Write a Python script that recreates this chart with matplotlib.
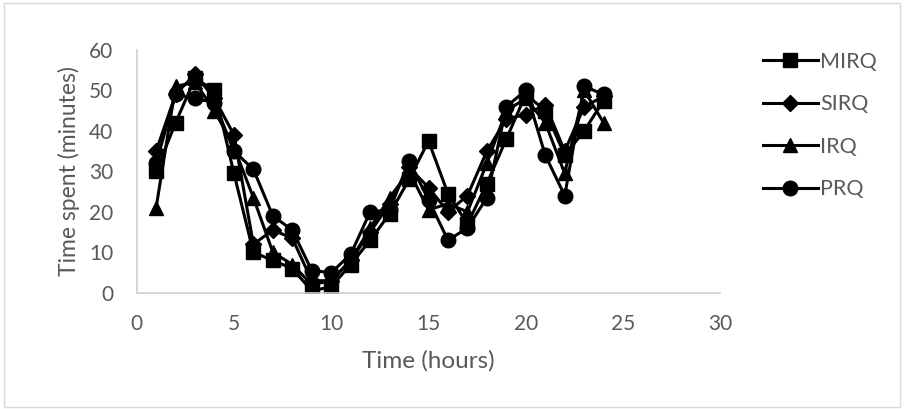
import matplotlib.pyplot as plt
from matplotlib.patches import Rectangle

plt.rcParams['font.family'] = ['Lato', 'DejaVu Sans']

hours = list(range(1, 25))

mirq = [30, 42, 53, 50, 29.5, 10, 8, 6, 0.5, 1.5, 7, 13,
        19.5, 28, 37.5, 24.5, 17, 27, 38, 49, 45, 34, 40, 47.5]
sirq = [35, 49, 54, 48, 39, 12, 15.5, 13.5, 3, 3, 8, 15,
        22, 31, 26, 20, 24, 35, 43, 44, 46.5, 35, 46, 48.5]
irq = [21, 51, 52, 45, 36, 23.5, 10, 7, 2, 3, 8, 16,
       23.5, 30, 20.5, 22, 20, 32, 45, 48, 42, 29.5, 50, 42]
prq = [32, 49, 48, 47, 35, 30.5, 19, 15.5, 5.5, 5, 9.5, 20,
       20.5, 32.5, 23, 13, 16, 23.5, 46, 50, 34, 24, 51, 49]

series = [('MIRQ', mirq, 's'), ('SIRQ', sirq, 'D'),
          ('IRQ', irq, '^'), ('PRQ', prq, 'o')]
msizes = {'s': 10, 'D': 8, '^': 10, 'o': 10.5}

grey = '#595959'

fig = plt.figure(figsize=(9.05, 4.09), dpi=100)
ax = fig.add_axes([0.151, 0.284, 0.645, 0.594])

for name, vals, mk in series:
    ax.plot(hours, vals, color='black', lw=2.2, marker=mk,
            markersize=msizes[mk], label=name)

ax.set_xlim(0, 30)
ax.set_ylim(0, 60)
ax.set_xticks(range(0, 31, 5))
ax.set_yticks(range(0, 61, 10))
ax.tick_params(length=0, labelsize=15, colors=grey)
ax.tick_params(axis='y', pad=17)
ax.tick_params(axis='x', pad=15)
for side in ['top', 'right']:
    ax.spines[side].set_visible(False)
for side in ['left', 'bottom']:
    ax.spines[side].set_color('#d0d0d0')
    ax.spines[side].set_linewidth(1.2)

ax.set_xlabel('Time (hours)', fontsize=17.5, color=grey, labelpad=12)
ax.set_ylabel('Time spent (minutes)', fontsize=16.5, color=grey, labelpad=6)

leg = fig.legend(loc='upper left', bbox_to_anchor=(0.831, 0.90),
                 frameon=False, fontsize=15.5, handlelength=2.55,
                 handletextpad=0.12, labelspacing=1.05, borderpad=0)
for t in leg.get_texts():
    t.set_color(grey)

# outer chart border
fig.patches.append(Rectangle((0.004, 0.006), 0.99, 0.986, transform=fig.transFigure,
                             fill=False, edgecolor='#d9d9d9', lw=1))

fig.savefig('out.png', dpi=100)
